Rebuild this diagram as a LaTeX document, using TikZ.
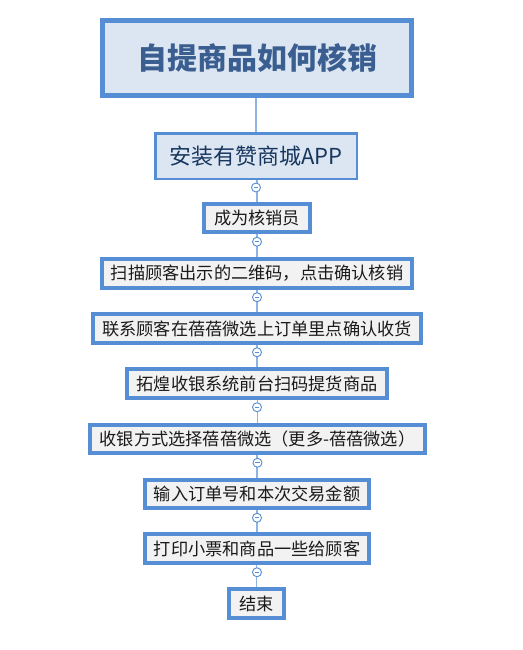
\documentclass[tikz,border=0pt]{standalone}
\usepackage{fontspec}
\setmainfont{Noto Sans CJK SC}
\usetikzlibrary{calc,backgrounds}
\definecolor{bordblue}{HTML}{558ED5}
\definecolor{lineblue}{HTML}{8EB4E3}
\definecolor{lightfill}{HTML}{DCE6F2}
\definecolor{grayfill}{HTML}{F2F2F2}
\definecolor{titletext}{HTML}{3B5E91}
\definecolor{apptext}{HTML}{17375E}
\definecolor{bodytext}{HTML}{1A1A1A}
\tikzset{
  titlebox/.style={draw=bordblue, line width=5pt, fill=lightfill, inner sep=0pt,
    minimum width=309pt, minimum height=75pt, text=titletext,
    font=\fontsize{30}{34}\selectfont\bfseries},
  appbox/.style={draw=bordblue, line width=2.5pt, fill=lightfill, inner sep=0pt,
    minimum height=45.5pt, text=apptext, font=\fontsize{22}{26}\selectfont},
  stepbox/.style={draw=bordblue, line width=4pt, fill=grayfill, inner sep=0pt,
    minimum height=28.5pt, text=bodytext, font=\fontsize{17.2}{20}\selectfont},
  conn/.style={draw=lineblue, line width=1.2pt},
  collapse/.style={circle, draw=bordblue, line width=0.9pt, fill=white, inner sep=0pt,
    minimum size=9pt,
    path picture={\draw[bordblue, line width=0.9pt]
      ([xshift=-2.4pt]path picture bounding box.center) --
      ([xshift=2.4pt]path picture bounding box.center);}}
}
\begin{document}
\begin{tikzpicture}[x=1pt, y=-1pt]
\useasboundingbox (0,0) rectangle (522,650);
\node[titlebox] (t) at (257,58) {自提商品如何核销};
\node[appbox, minimum width=201.5pt] (b2) at (256,156) {安装有赞商城APP};
\node[stepbox, minimum width=106pt] (b3) at (257,218) {成为核销员};
\node[stepbox, minimum width=310pt] (b4) at (257,273.5) {扫描顾客出示的二维码，点击确认核销};
\node[stepbox, minimum width=328pt] (b5) at (257,328.5) {联系顾客在蓓蓓微选上订单里点确认收货};
\node[stepbox, minimum width=260pt] (b6) at (257,383.5) {拓煌收银系统前台扫码提货商品};
\node[stepbox, minimum width=335pt] (b7) at (257.5,439) {收银方式选择蓓蓓微选（更多-蓓蓓微选）};
\node[stepbox, minimum width=224pt] (b8) at (257,494) {输入订单号和本次交易金额};
\node[stepbox, minimum width=224pt] (b9) at (257,548.5) {打印小票和商品一些给顾客};
\node[stepbox, minimum width=55pt] (b10) at (256.5,603.5) {结束};
\begin{scope}[on background layer]
\fill[white] (0,0) rectangle (522,650);
\draw[conn] (t.south -| b2.north) -- (b2.north);
\foreach \a/\b in {b2/b3,b3/b4,b4/b5,b5/b6,b6/b7,b7/b8,b8/b9,b9/b10}{
  \draw[conn] (\a.south -| \b.north) -- (\b.north);
}
\end{scope}
\foreach \a in {b2,b3,b4,b5,b6,b7,b8,b9}{
  \node[collapse] (c\a) at ($(\a.south)+(0,7.5)$) {};
}
\end{tikzpicture}
\end{document}
